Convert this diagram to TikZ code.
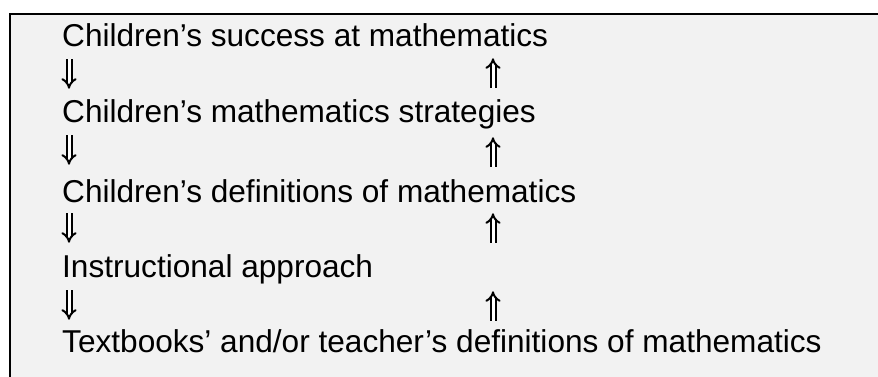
\documentclass[tikz,border=0pt]{standalone}
\usepackage{fontspec}
\setmainfont{Liberation Sans}
\usepackage{xcolor}
\usepackage{tikz}
\usetikzlibrary{arrows.meta}

\begin{document}
\begin{tikzpicture}[x=1pt, y=-1pt,
    riga/.style={anchor=base west, inner sep=0pt, font=\fontsize{31.6}{36}\selectfont},
    freccia/.style={inner sep=0pt, minimum width=13pt, minimum height=29pt},
    doppia/.style={line width=2pt, double, double distance=3pt, -{Implies[length=5pt, width=9pt]}}]

    % ==========================================
    % 1. SFONDO E CORNICE
    % ==========================================
    \useasboundingbox (0,0) rectangle (878,377);
    \fill[black!5] (10,14) rectangle (878,377);
    \draw[line width=2pt] (10,377) -- (10,14) -- (878,14);

    % ==========================================
    % 2. RIGHE DI TESTO
    % ==========================================
    \node[riga] (successo)   at (62,47)  {Children’s success at mathematics};
    \node[riga] (strategie)  at (62,123) {Children’s mathematics strategies};
    \node[riga] (definizioni) at (62,202) {Children’s definitions of mathematics};
    \node[riga] (approccio)  at (62,277) {Instructional approach};
    \node[riga] (libri)      at (62,352) {Textbooks’ and/or teacher’s definitions of mathematics};

    % ==========================================
    % 3. LE FRECCE (giu a sinistra, su a destra)
    % ==========================================
    \node[freccia] (giuA) at (69,74)  {};
    \node[freccia] (giuB) at (69,150) {};
    \node[freccia] (giuC) at (69,228) {};
    \node[freccia] (giuD) at (69,305) {};

    \node[freccia] (suA) at (493,73)  {};
    \node[freccia] (suB) at (493,152) {};
    \node[freccia] (suC) at (493,228) {};
    \node[freccia] (suD) at (493,306) {};

    \foreach \f in {giuA, giuB, giuC, giuD}
        \draw[doppia] (\f.north) -- (\f.south);
    \foreach \f in {suA, suB, suC, suD}
        \draw[doppia] (\f.south) -- (\f.north);

\end{tikzpicture}
\end{document}
